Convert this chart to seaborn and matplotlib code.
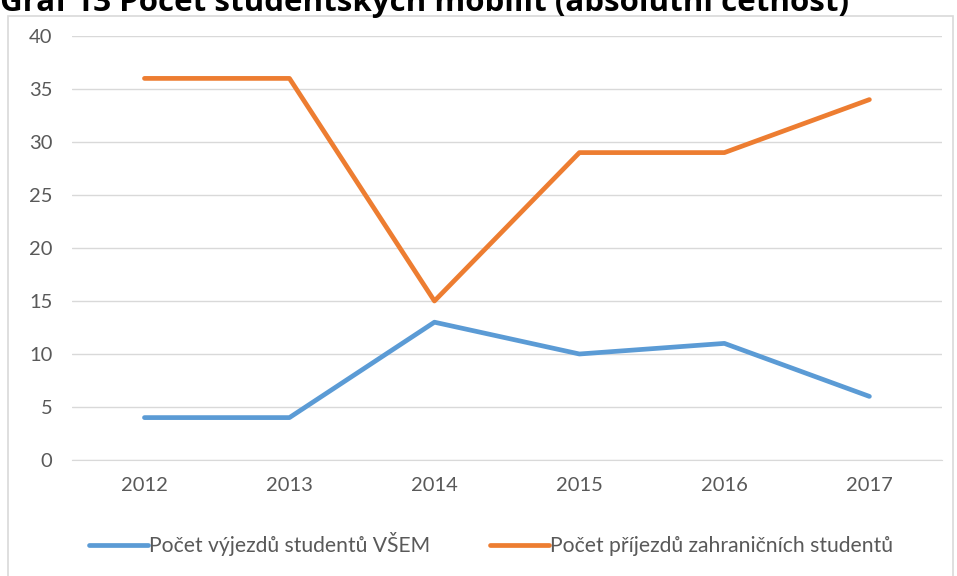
import pandas as pd
import matplotlib.pyplot as plt
import seaborn as sns
from matplotlib.patches import Rectangle
from matplotlib.lines import Line2D

years = [2012, 2013, 2014, 2015, 2016, 2017]
vyjezdy = [4, 4, 13, 10, 11, 6]
prijezdy = [36, 36, 15, 29, 29, 34]
series_names = ["Počet výjezdů studentů VŠEM", "Počet příjezdů zahraničních studentů"]
title = "Graf 13 Počet studentských mobilit (absolutní četnost)"

df = pd.DataFrame({
    "rok": years * 2,
    "pocet": vyjezdy + prijezdy,
    "serie": [series_names[0]] * len(years) + [series_names[1]] * len(years),
})

sns.set_style("white")
plt.rcParams['font.family'] = ['Lato', 'DejaVu Sans']

fig = plt.figure(figsize=(9.57, 5.76), dpi=100)
ax = fig.add_axes([0.0752, 0.2014, 0.909, 0.7361])

# chart border like the Excel chart area
fig.patches.append(Rectangle((8 / 957, -0.01), 945 / 957, 1 - 16 / 576 + 0.01,
                             transform=fig.transFigure, fill=False,
                             edgecolor="#d9d9d9", linewidth=1.2))

sns.lineplot(data=df, x="rok", y="pocet", hue="serie",
             palette=["#5B9BD5", "#ED7D31"], linewidth=3.4, ax=ax, legend=False)

ax.set_xlim(2011.5, 2017.5)
ax.set_ylim(0, 40)
ax.set_yticks(range(0, 41, 5))
ax.set_xticks(years)
ax.set_xlabel("")
ax.set_ylabel("")
ax.grid(axis="y", color="#d9d9d9", linewidth=1)
ax.set_axisbelow(True)
for s in ["top", "right", "left"]:
    ax.spines[s].set_visible(False)
ax.spines["bottom"].set_color("#d9d9d9")
ax.tick_params(axis="both", length=0, labelsize=14.5, labelcolor="#595959")
ax.tick_params(axis="y", pad=14)
ax.tick_params(axis="x", pad=12)

handles = [Line2D([], [], color=c, linewidth=3.4, solid_capstyle="round")
           for c in ["#5B9BD5", "#ED7D31"]]
leg = fig.legend(handles, series_names, loc="center", bbox_to_anchor=(0.513, 0.055),
                 ncol=2, frameon=False, fontsize=15.2, handlelength=2.8,
                 handletextpad=0.05, columnspacing=2.8)
for t in leg.get_texts():
    t.set_color("#595959")

fig.text(0.0, 0.995, title, fontsize=22.5, fontweight="bold", color="black",
         ha="left", va="center", family=["Open Sans", "DejaVu Sans"])

fig.savefig("out.png", dpi=100)
